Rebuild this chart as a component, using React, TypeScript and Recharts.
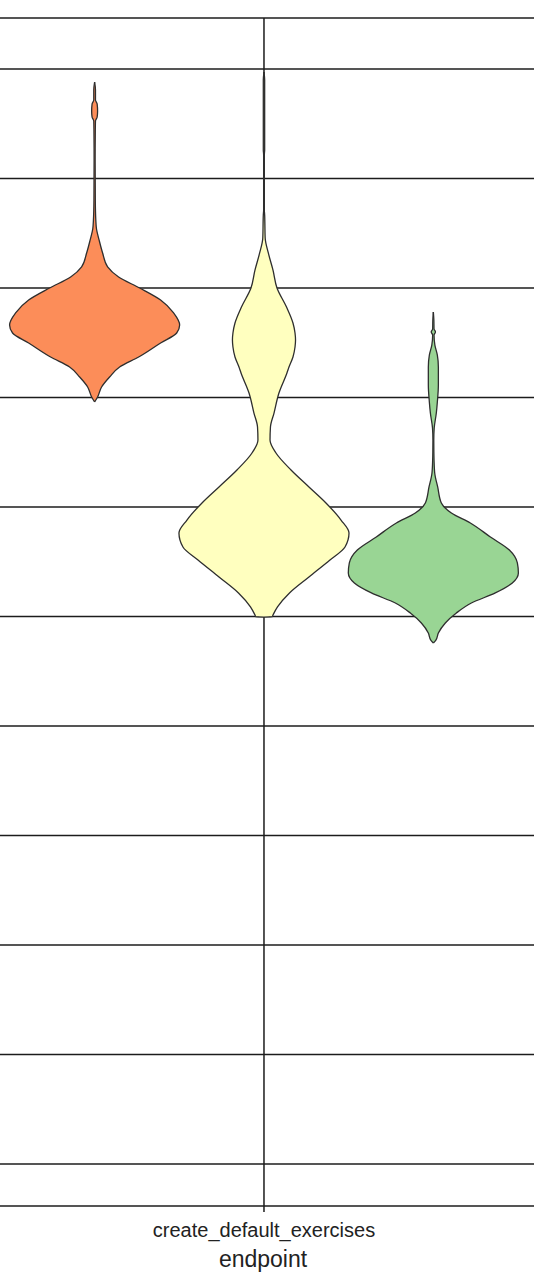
import { ComposedChart, Area, XAxis, YAxis, CartesianGrid, ReferenceLine } from 'recharts';

// axis text
const categoryLabel = 'create_default_exercises';
const xTitle = 'endpoint';

// value axis: grid ticks and visible range
const yTicks = [0, 10, 20, 30, 40, 50, 60, 70, 80, 90, 100];
const yRange = [-3.84, 104.66];

// position of each hue inside the single category
const hueOffsets = [-0.2667, 0, 0.2667];
const xRange = [-0.4157, 0.4252];

// violin 1 (orange): value levels and relative density
const orangeY = [98.81, 98.08, 97.17, 96.8, 96.16, 95.62, 95.25, 94.43, 91.69, 88.04, 86.21, 85.39, 84.38, 83.2, 81.92, 81.0, 80.0, 78.9, 77.72, 76.62, 75.89, 74.98, 73.7, 72.79, 71.87, 70.96, 70.05, 69.59];
const orangeD = [0, 0.01, 0.01, 0.03, 0.035, 0.03, 0.01, 0.008, 0.006, 0.008, 0.014, 0.022, 0.053, 0.094, 0.153, 0.282, 0.529, 0.776, 0.929, 1.0, 0.965, 0.776, 0.518, 0.294, 0.176, 0.082, 0.035, 0];

// violin 2 (yellow)
const yellowY = [99.73, 98.99, 92.6, 92.15, 87.12, 86.67, 84.57, 83.2, 81.64, 80.0, 78.26, 76.8, 75.89, 75.25, 74.61, 73.7, 72.79, 72.24, 70.41, 68.58, 67.31, 66.12, 64.93, 63.38, 61.83, 60.37, 58.81, 57.63, 56.35, 55.16, 53.61, 52.15, 50.87, 50.14, 49.97, 49.95];
const yellowD = [0, 0.008, 0.008, 0.004, 0.004, 0.008, 0.014, 0.051, 0.106, 0.153, 0.265, 0.341, 0.365, 0.371, 0.365, 0.341, 0.294, 0.27, 0.176, 0.118, 0.076, 0.071, 0.141, 0.318, 0.529, 0.729, 0.906, 1.0, 0.953, 0.776, 0.529, 0.3, 0.159, 0.106, 0.095, 0];

// violin 3 (green)
const greenY = [77.81, 77.08, 76.26, 75.98, 75.71, 74.79, 73.88, 72.79, 71.14, 69.59, 68.58, 67.21, 66.12, 65.02, 64.29, 63.11, 61.83, 60.37, 59.45, 58.54, 57.26, 56.07, 54.89, 53.97, 53.06, 52.15, 51.23, 50.32, 49.41, 48.49, 47.85, 47.58];
const greenD = [0, 0.006, 0.008, 0.025, 0.008, 0.018, 0.047, 0.059, 0.059, 0.047, 0.035, 0.01, 0.005, 0.006, 0.008, 0.016, 0.051, 0.094, 0.212, 0.435, 0.671, 0.894, 0.988, 1.0, 0.929, 0.729, 0.447, 0.271, 0.141, 0.059, 0.03, 0];

const HALF_WIDTH = 0.1339;
const LINE = '#1c1c1c';
const OUTLINE = '#2e2e2e';

function violinRows(ys: number[], dens: number[], center: number) {
    return ys.map((y, i) => ({
        y,
        range: [center - dens[i] * HALF_WIDTH, center + dens[i] * HALF_WIDTH],
    }));
}

const violins = [
    { name: 'orange', fill: '#fc8d59', rows: violinRows(orangeY, orangeD, hueOffsets[0]) },
    { name: 'yellow', fill: '#ffffbf', rows: violinRows(yellowY, yellowD, hueOffsets[1]) },
    { name: 'green', fill: '#99d594', rows: violinRows(greenY, greenD, hueOffsets[2]) },
];

// y ticks exist only to feed the grid; draw no label for them
const NoTick = () => <g />;

export default function App() {
    return (
        <div style={{ position: 'absolute', left: 0, top: 0 }}>
            <ComposedChart
                width={534}
                height={1282}
                layout="vertical"
                margin={{ top: 18, right: 0, bottom: 0, left: 0 }}
                style={{ fontFamily: '"Liberation Sans", Arial, sans-serif' }}
            >
                <CartesianGrid stroke={LINE} strokeWidth={1.5} syncWithTicks />
                <XAxis
                    type="number"
                    domain={xRange}
                    allowDataOverflow
                    ticks={[0]}
                    tickFormatter={() => categoryLabel}
                    height={76}
                    tickSize={6}
                    tickMargin={11}
                    stroke={LINE}
                    strokeWidth={1.5}
                    tick={{ fontSize: 20, fill: '#222' }}
                    label={{ value: xTitle, position: 'insideBottom', offset: 15, dx: -4, fontSize: 23, fill: '#222' }}
                />
                <YAxis
                    type="number"
                    dataKey="y"
                    domain={yRange}
                    allowDataOverflow
                    reversed
                    ticks={yTicks}
                    width={0}
                    tick={NoTick}
                    tickLine={false}
                    axisLine={false}
                />
                <ReferenceLine y={yRange[1]} stroke={LINE} strokeWidth={1.5} />
                {violins.map(v => (
                    <Area
                        key={v.name}
                        data={v.rows}
                        dataKey="range"
                        type="monotone"
                        fill={v.fill}
                        fillOpacity={1}
                        stroke={OUTLINE}
                        strokeWidth={1.3}
                        isAnimationActive={false}
                    />
                ))}
            </ComposedChart>
        </div>
    );
}
